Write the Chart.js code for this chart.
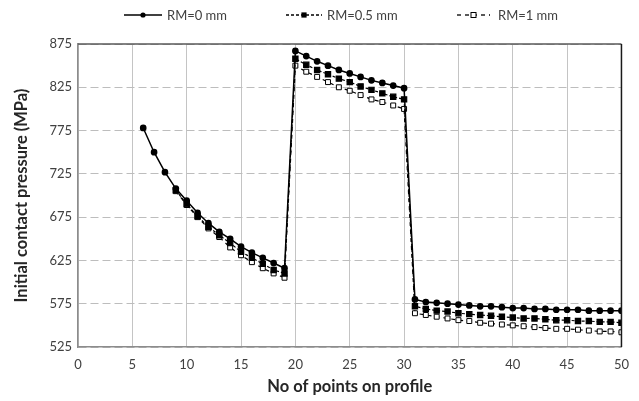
<!DOCTYPE html>
<html>
<head>
<meta charset="utf-8">
<script src="https://cdn.jsdelivr.net/npm/chart.js@4/dist/chart.umd.min.js"></script>
<style>
  html, body { margin: 0; padding: 0; background: #fff; }
  #wrap { width: 639px; height: 401px; }
</style>
</head>
<body>
<div id="wrap"><canvas id="pressure"></canvas></div>
<script>
// x positions (point number on profile)
const points = [6, 7, 8, 9, 10, 11, 12, 13, 14, 15, 16, 17, 18, 19,
  20, 21, 22, 23, 24, 25, 26, 27, 28, 29, 30,
  31, 32, 33, 34, 35, 36, 37, 38, 39, 40, 41, 42, 43, 44, 45, 46, 47, 48, 49, 50];

const rm0 = [778, 750, 727, 708, 694, 680, 668, 658, 650, 641, 634, 628, 622, 616,
  867, 861, 855, 850, 845, 841, 837, 833, 830, 827, 824,
  580, 577, 576, 575, 574, 573, 572, 572, 571, 570, 570, 569, 569, 568, 568, 568, 567, 567, 567, 567];

const rm05 = [null, null, null, 706, 690, 676, 664, 654, 645, 635, 628, 621, 614, 610,
  858, 851, 845, 840, 835, 831, 826, 822, 818, 814, 811,
  572, 569, 567, 566, 564, 563, 562, 561, 560, 559, 558, 558, 557, 556, 556, 555, 555, 554, 554, 553];

const rm1 = [null, null, null, 705, 689, 675, 662, 652, 640, 631, 623, 616, 610, 605,
  850, 843, 837, 831, 825, 821, 816, 811, 808, 804, 800,
  564, 562, 560, 558, 556, 555, 553, 552, 551, 550, 549, 548, 547, 546, 546, 545, 544, 543, 543, 542];

const seriesNames = ['RM=0 mm', 'RM=0.5 mm', 'RM=1 mm'];
const xTicks = [0, 5, 10, 15, 20, 25, 30, 35, 40, 45, 50];
const yTicks = [525, 575, 625, 675, 725, 775, 825, 875];

const FONT = 'Lato, "Liberation Sans", sans-serif';
const TEXT = '#404040';

function pts(ys) {
  return points.map((x, i) => ({ x: x, y: ys[i] }));
}

// legend entries: line sample (start x, length), marker and text positions
const legendItems = [
  { x: 124, len: 38, text: 167 },
  { x: 286, len: 36, text: 327 },
  { x: 457, len: 33, text: 498 }
];

const lineLegend = {
  id: 'lineLegend',
  afterDraw(chart) {
    const ctx = chart.ctx;
    const y = 15;
    ctx.save();
    chart.data.datasets.forEach((ds, i) => {
      const it = legendItems[i];
      ctx.strokeStyle = '#000';
      ctx.lineWidth = 1.3;
      ctx.setLineDash(ds.borderDash || []);
      ctx.beginPath(); ctx.moveTo(it.x, y); ctx.lineTo(it.x + it.len, y); ctx.stroke();
      ctx.setLineDash([]);
      const mx = it.x + it.len / 2;
      if (ds.pointStyle === 'circle') {
        ctx.fillStyle = '#000';
        ctx.beginPath(); ctx.arc(mx, y, 2.6, 0, Math.PI * 2); ctx.fill();
      } else if (ds.backgroundColor === '#000') {
        ctx.fillStyle = '#000';
        ctx.fillRect(mx - 2.6, y - 2.6, 5.2, 5.2);
      } else {
        ctx.fillStyle = '#fff';
        ctx.lineWidth = 1;
        ctx.fillRect(mx - 2.5, y - 2.5, 5, 5);
        ctx.strokeRect(mx - 2.5, y - 2.5, 5, 5);
      }
      ctx.fillStyle = TEXT;
      ctx.font = '13px ' + FONT;
      ctx.textBaseline = 'middle';
      ctx.textAlign = 'left';
      ctx.fillText(ds.label, it.text, y + 1);
    });
    ctx.restore();
  }
};

const frame = {
  id: 'frame',
  afterDatasetsDraw(chart) {
    const a = chart.chartArea;
    const ctx = chart.ctx;
    ctx.save();
    ctx.lineWidth = 1.5;
    ctx.strokeStyle = '#595959';
    ctx.beginPath(); ctx.moveTo(a.left, a.top); ctx.lineTo(a.right, a.top); ctx.stroke();
    ctx.strokeStyle = '#1a1a1a';
    ctx.beginPath(); ctx.moveTo(a.right, a.top); ctx.lineTo(a.right, a.bottom); ctx.stroke();
    ctx.restore();
  }
};

new Chart('pressure', {
  type: 'line',
  data: {
    datasets: [
      {
        label: seriesNames[0],
        data: pts(rm0),
        borderColor: '#000',
        backgroundColor: '#000',
        borderWidth: 1.5,
        pointStyle: 'circle',
        pointRadius: 2.6,
        tension: 0
      },
      {
        label: seriesNames[1],
        data: pts(rm05),
        borderColor: '#000',
        backgroundColor: '#000',
        borderWidth: 1.2,
        borderDash: [3, 2],
        pointStyle: 'rect',
        pointRadius: 3.7,
        tension: 0
      },
      {
        label: seriesNames[2],
        data: pts(rm1),
        borderColor: '#000',
        backgroundColor: '#fff',
        borderWidth: 1.2,
        borderDash: [4, 4],
        pointStyle: 'rect',
        pointRadius: 3.5,
        pointBorderWidth: 1,
        tension: 0
      }
    ]
  },
  options: {
    responsive: true,
    maintainAspectRatio: false,
    animation: false,
    layout: { padding: { left: 0, right: 16, top: 44, bottom: 0 } },
    plugins: {
      tooltip: { enabled: false },
      legend: { display: false }
    },
    scales: {
      x: {
        type: 'linear',
        min: 0,
        max: 50,
        afterBuildTicks(axis) { axis.ticks = xTicks.map(v => ({ value: v })); },
        afterFit(axis) { axis.height = 54; },
        ticks: { color: TEXT, font: { family: FONT, size: 13 }, padding: 10 },
        grid: { color: '#c4c4c4', lineWidth: 1, drawTicks: false },
        border: { color: '#8c8c8c', width: 1.5 },
        title: {
          display: true,
          text: 'No of points on profile',
          color: '#262626',
          font: { family: FONT, size: 16.5, weight: 'bold' },
          padding: { top: 0, bottom: 4 }
        }
      },
      y: {
        min: 525,
        max: 875,
        afterBuildTicks(axis) { axis.ticks = yTicks.map(v => ({ value: v })); },
        afterFit(axis) { axis.width = 78; },
        ticks: { color: TEXT, font: { family: FONT, size: 13 }, padding: 6 },
        grid: { color: '#bdbdbd', lineWidth: 1, drawTicks: false },
        border: { color: '#8c8c8c', width: 1.5, dash: [8, 4] },
        title: {
          display: true,
          text: 'Initial contact pressure (MPa)',
          color: '#262626',
          font: { family: FONT, size: 16.5, weight: 'bold' },
          padding: { top: 12, bottom: 0 }
        }
      }
    }
  },
  plugins: [frame, lineLegend]
});
</script>
</body>
</html>
